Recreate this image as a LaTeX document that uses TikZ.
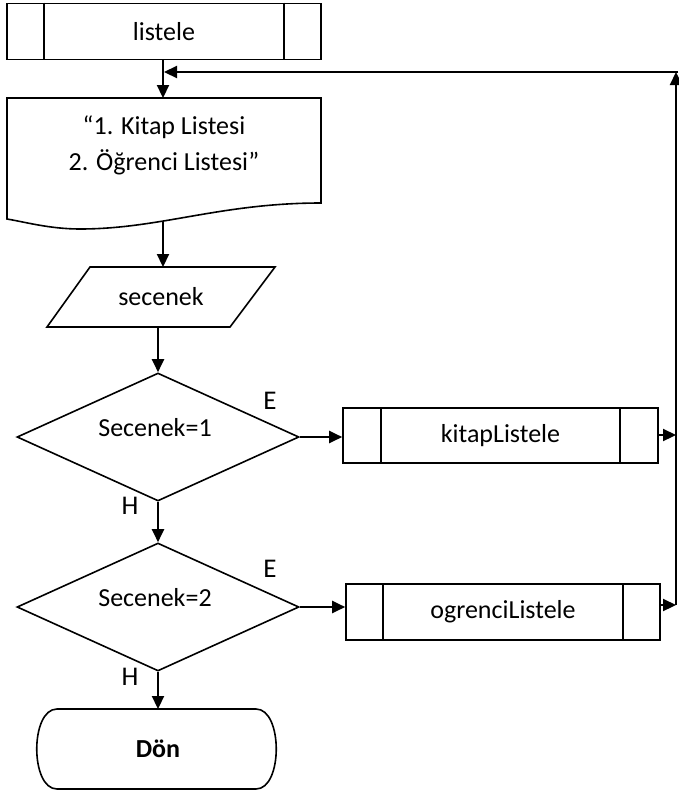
\documentclass[tikz,border=0pt]{standalone}
\usepackage{fontspec}
\setmainfont{Carlito}
\usetikzlibrary{shapes.geometric,arrows.meta}
\begin{document}
\begin{tikzpicture}[x=1pt,y=-1pt,
  shapeline/.style={draw=black,line width=1.6pt},
  proc/.style={shapeline,rectangle,inner sep=0pt,minimum width=314pt,minimum height=56pt},
  dec/.style={shapeline,diamond,inner sep=0pt,minimum width=282pt,minimum height=128pt},
  arr/.style={line width=2.2pt,-{Triangle[length=13pt,width=12pt]}},
  txt/.style={font=\fontsize{26}{36}\selectfont},
  lbl/.style={font=\fontsize{27}{30}\selectfont,inner sep=0pt}]
\useasboundingbox (0,0) rectangle (678,793);
% listele
\node[proc,txt] (listele) at (164,31.5) {listele};
\draw[shapeline] ([xshift=38pt]listele.north west) -- ([xshift=38pt]listele.south west);
\draw[shapeline] ([xshift=-38pt]listele.north east) -- ([xshift=-38pt]listele.south east);
% document
\node[txt,align=center,inner sep=0pt] (doc) at (164,145) {“1. Kitap Listesi\\2. Öğrenci Listesi”};
\coordinate (doctop) at (163,98);
\coordinate (docbot) at (163,222);
\draw[shapeline] (7,219) -- (7,98) -- (321,98) -- (321,203)
  .. controls (220,203) and (160,229) .. (80,229)
  .. controls (50,229) and (25,222) .. (7,219) -- cycle;
% secenek
\draw[shapeline] (90,267) -- (275,267) -- (230,327) -- (47,327) -- cycle;
\node[txt] (sec) at (161,297) {secenek};
\coordinate (sectop) at (163,267);
\coordinate (secbot) at (158,327);
% decisions
\node[dec] (d1) at (158,437) {};
\node[txt] at (155,428) {Secenek=1};
\node[dec] (d2) at (158,607) {};
\node[txt] at (155,598) {Secenek=2};
\node[lbl] at (270,401) {E};
\node[lbl] at (130,506) {H};
\node[lbl] at (270,569) {E};
\node[lbl] at (130,677) {H};
% kitapListele
\node[proc,minimum width=315pt,minimum height=55pt,txt] (kitap) at (500.5,435.5) {kitapListele};
\draw[shapeline] ([xshift=39pt]kitap.north west) -- ([xshift=39pt]kitap.south west);
\draw[shapeline] ([xshift=-39pt]kitap.north east) -- ([xshift=-39pt]kitap.south east);
% ogrenciListele
\node[proc,minimum width=314pt,minimum height=56pt,txt] (ogr) at (503,612) {ogrenciListele};
\draw[shapeline] ([xshift=38pt]ogr.north west) -- ([xshift=38pt]ogr.south west);
\draw[shapeline] ([xshift=-38pt]ogr.north east) -- ([xshift=-38pt]ogr.south east);
% Don
\draw[shapeline] (57,709) -- (256,709) .. controls (283,709) and (283,789) .. (256,789)
  -- (57,789) .. controls (30,789) and (30,709) .. (57,709) -- cycle;
\node[txt,font=\fontsize{26}{36}\selectfont\bfseries] (don) at (158,749) {Dön};
\coordinate (dontop) at (158,709);
% connectors
\draw[arr] (listele.south -| doctop) -- (doctop);
\draw[arr] (docbot) -- (sectop);
\draw[arr] (secbot) -- (d1.north);
\draw[arr] (d1.south) -- (d2.north);
\draw[arr] (d2.south) -- (dontop);
\draw[arr] (d1.east) -- (d1.east -| kitap.west);
\draw[arr] (d2.east) -- (d2.east -| ogr.west);
\coordinate (rk) at (676,435);
\coordinate (ro) at (676,605);
\coordinate (rt) at (676,72);
\coordinate (rtt) at (678,72);
\coordinate (back) at (164,72);
\draw[arr] (kitap.east |- rk) -- (rk);
\draw[arr] (ogr.east |- ro) -- (ro);
\draw[arr] (ro) -- (rt);
\draw[arr] (rtt) -- (back);
\end{tikzpicture}
\end{document}
